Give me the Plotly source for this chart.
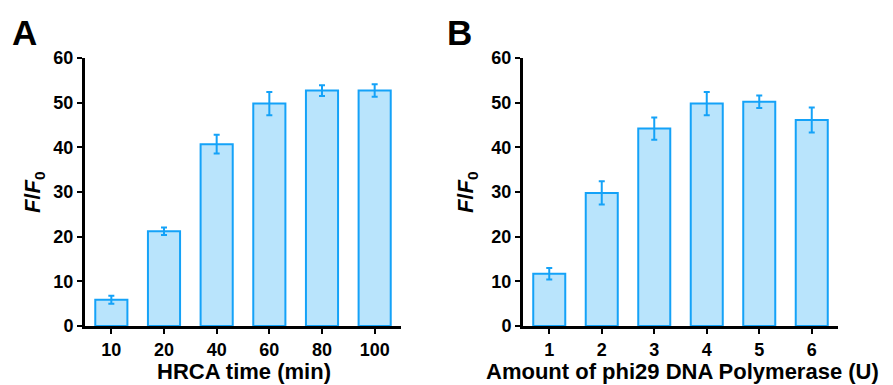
import plotly.graph_objects as go

# Panel A data
time_labels = ["10", "20", "40", "60", "80", "100"]
time_values = [5.9, 21.2, 40.7, 49.8, 52.7, 52.7]
time_errors = [0.9, 0.85, 2.1, 2.6, 1.2, 1.4]

# Panel B data
poly_labels = ["1", "2", "3", "4", "5", "6"]
poly_values = [11.7, 29.8, 44.2, 49.8, 50.2, 46.1]
poly_errors = [1.3, 2.6, 2.5, 2.6, 1.4, 2.8]

y_ticks = [0, 10, 20, 30, 40, 50, 60]

FILL = "#b9e4fc"
EDGE = "#14a2f8"
FONT = "Liberation Sans"

# page body has an 8px margin; work in reference-pixel coordinates
OFF = 8
W, H = 893 - OFF, 385 - OFF

def px(x):
    return (x - OFF) / W

def py(y):
    return 1 - (y - OFF) / H

fig = go.Figure()

def add_bars(xs, ys, es, xa, ya):
    fig.add_trace(go.Bar(
        x=xs, y=ys, xaxis=xa, yaxis=ya, width=0.61,
        marker=dict(color=FILL, line=dict(color=EDGE, width=2)),
        error_y=dict(type="data", array=es, visible=True, color=EDGE,
                     thickness=2, width=3),
        showlegend=False,
    ))

add_bars(time_labels, time_values, time_errors, "x", "y")
add_bars(poly_labels, poly_values, poly_errors, "x2", "y2")

y_dom = [py(326), py(58)]
xA = [px(85), px(401)]
xB = [px(523), px(838)]

tickfont = dict(family=FONT, size=18, color="black", weight="bold")

def xaxis_cfg(dom, anchor):
    return dict(domain=dom, anchor=anchor, type="category", range=[-0.5, 5.5],
                showline=True, linecolor="black", linewidth=3,
                ticks="outside", ticklen=5, tickwidth=2, tickcolor="black",
                tickfont=tickfont, showgrid=False, zeroline=False,
                fixedrange=True, automargin=False)

def yaxis_cfg(anchor):
    return dict(domain=y_dom, anchor=anchor, range=[0, 60],
                tickvals=y_ticks, ticktext=[str(t) for t in y_ticks],
                showline=True, linecolor="black", linewidth=3,
                ticks="outside", ticklen=5, tickwidth=2, tickcolor="black",
                tickfont=tickfont, showgrid=False, zeroline=False,
                fixedrange=True, automargin=False)

titlefont = dict(family=FONT, size=22, color="black", weight="bold")
ytitlefont = dict(family=FONT, size=22, color="black", weight="bold")
letterfont = dict(family=FONT, size=35, color="black", weight="bold")

fig.update_layout(
    width=W, height=H,
    margin=dict(l=0, r=0, t=0, b=0, autoexpand=False),
    paper_bgcolor="white", plot_bgcolor="white",
    xaxis=xaxis_cfg(xA, "y"),
    yaxis=yaxis_cfg("x"),
    xaxis2=xaxis_cfg(xB, "y2"),
    yaxis2=yaxis_cfg("x2"),
    annotations=[
        dict(text="A", x=px(10), y=py(32), xref="paper", yref="paper",
             xanchor="left", yanchor="middle", showarrow=False, font=letterfont),
        dict(text="B", x=px(445), y=py(32), xref="paper", yref="paper",
             xanchor="left", yanchor="middle", showarrow=False, font=letterfont),
        dict(text="<i>F</i>/<i>F</i><sub>0</sub>", x=px(34), y=py(192),
             xref="paper", yref="paper", xanchor="center", yanchor="middle",
             textangle=-90, showarrow=False, font=ytitlefont),
        dict(text="<i>F</i>/<i>F</i><sub>0</sub>", x=px(467), y=py(192),
             xref="paper", yref="paper", xanchor="center", yanchor="middle",
             textangle=-90, showarrow=False, font=ytitlefont),
        dict(text="HRCA time (min)", x=px((152 + 335) / 2), y=py(371),
             xref="paper", yref="paper", xanchor="center", yanchor="middle",
             showarrow=False, font=titlefont),
        dict(text="Amount of phi29 DNA Polymerase (U)", x=px((476 + 888) / 2),
             y=py(371), xref="paper", yref="paper", xanchor="center",
             yanchor="middle", showarrow=False, font=titlefont),
    ],
)

fig.write_html("out.html")
